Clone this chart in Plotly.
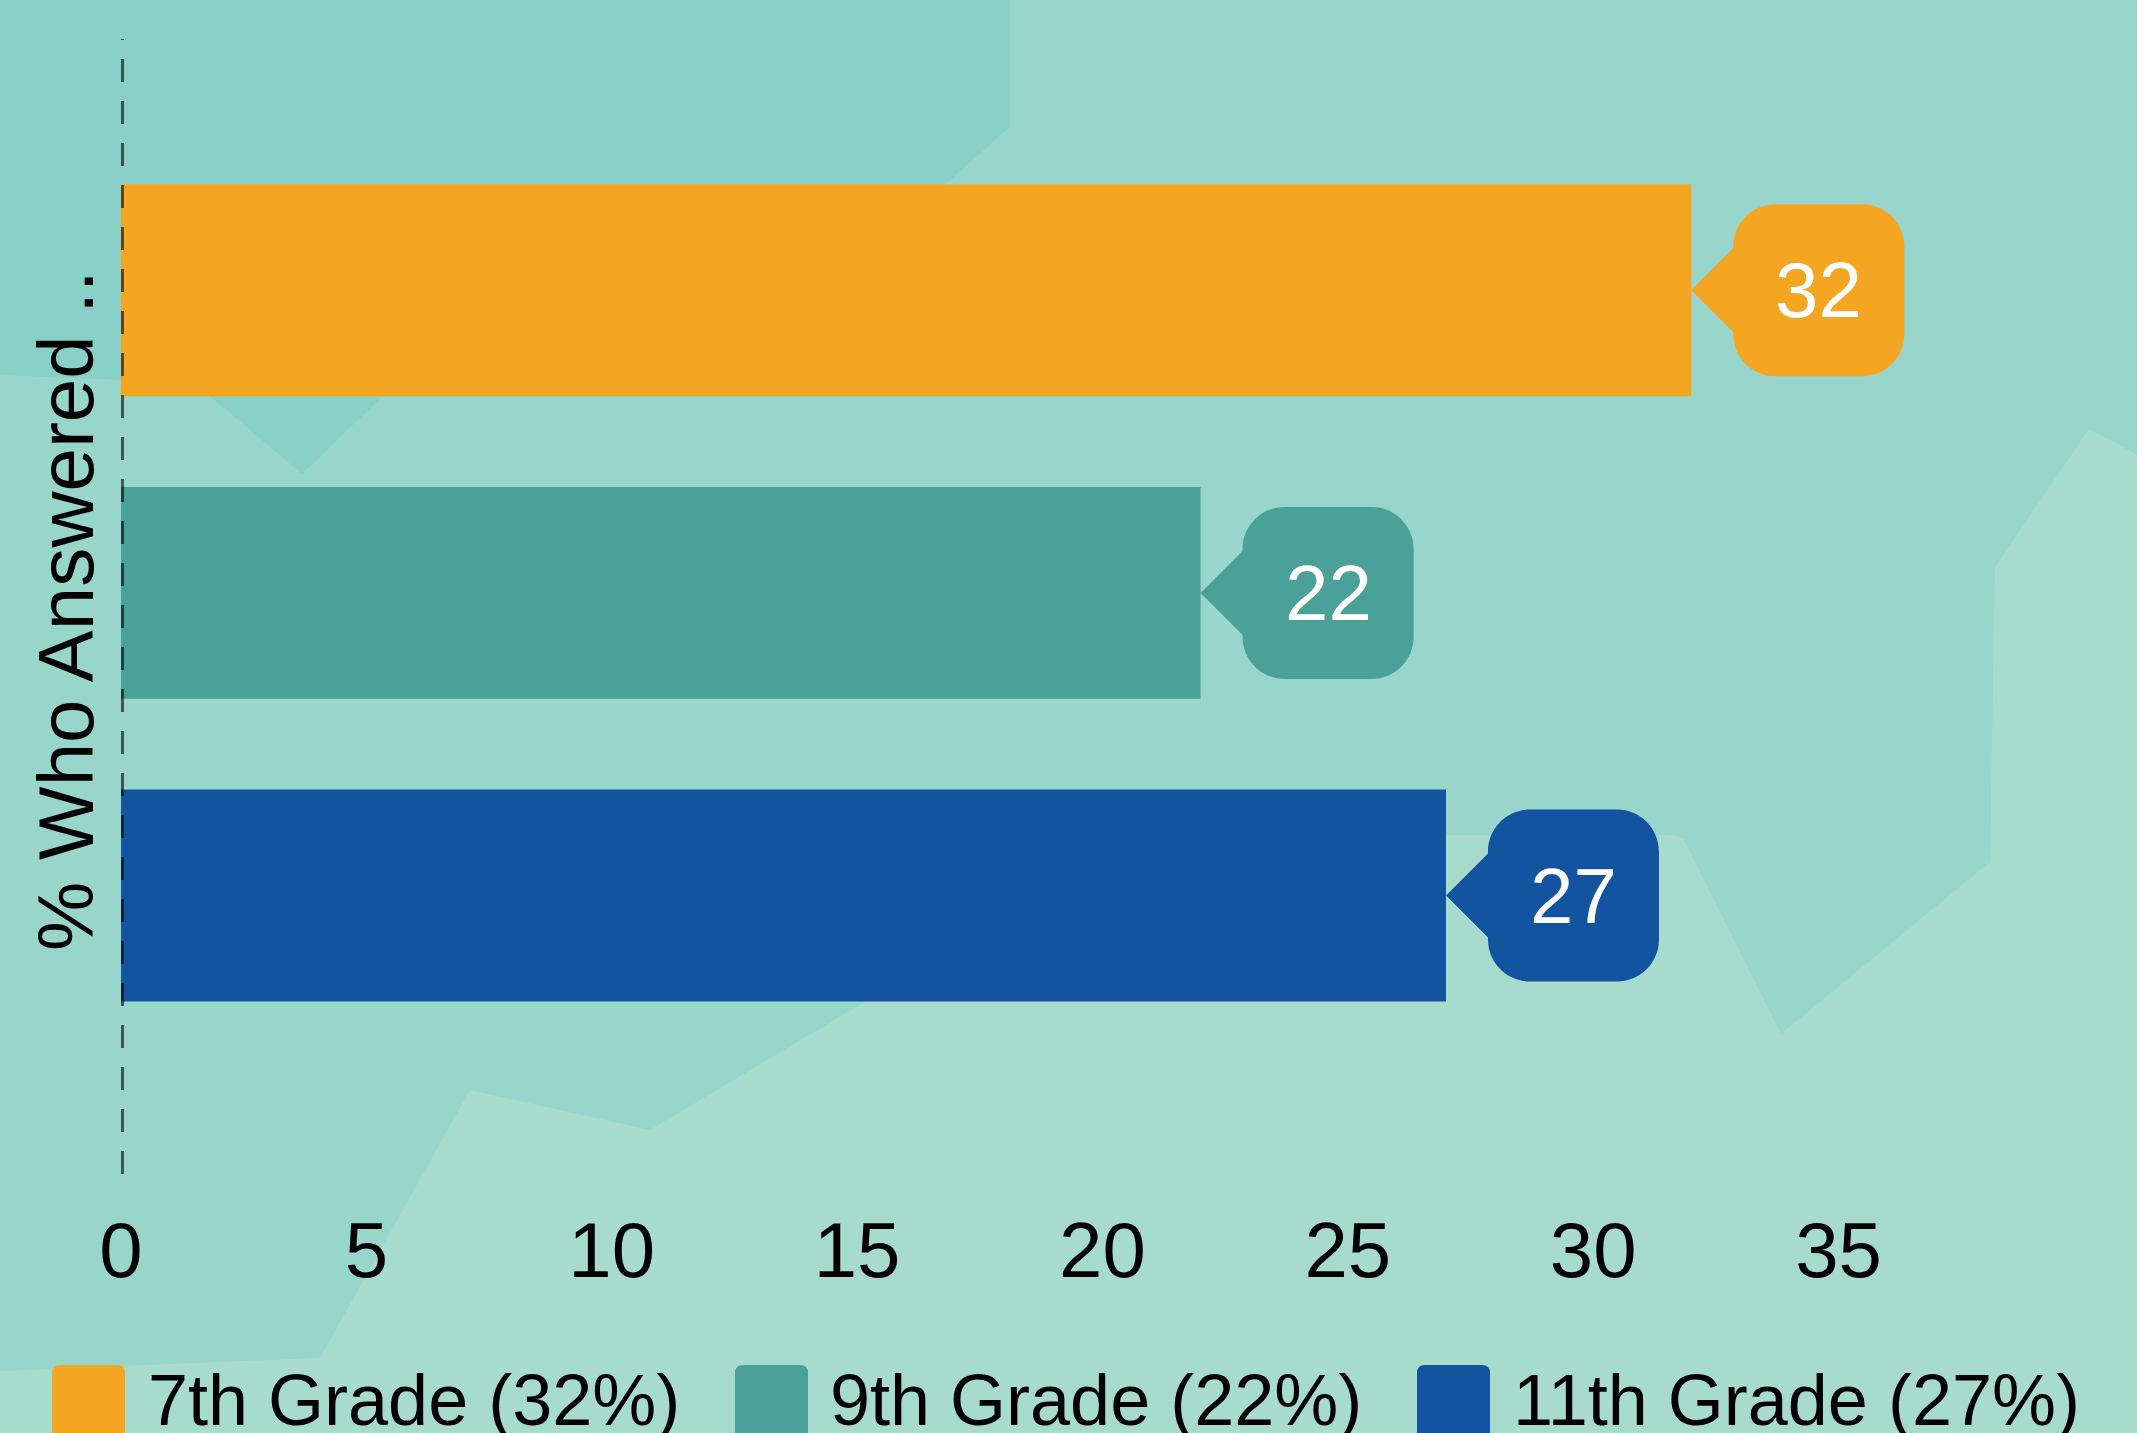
import plotly.graph_objects as go

# ---------------- data ----------------
categories = ["7th Grade", "9th Grade", "11th Grade"]
values = [32, 22, 27]
bar_colors = ["#F4A623", "#4AA198", "#1254A0"]
axis_title = "% Who Answered .."
x_ticks = [0, 5, 10, 15, 20, 25, 30, 35]

# ---------------- geometry (pixels) ----------------
FIG_W, FIG_H = 2137, 1433
L, T = 121, 39
PW, PH = 2012, 1135
R = FIG_W - L - PW
B = FIG_H - T - PH
XMAX = 41.0
YR = [2.92, -0.83]
PX_X = PW / XMAX
PX_Y = PH / (YR[0] - YR[1])

def pxx(px):
    return (px - L) / PW

def pxy(py):
    return (T + PH - py) / PH

FONT = "Liberation Sans, Arial, Helvetica, sans-serif"
BG_MID = "#98D6CC"
BG_DARK = "#89D0C9"
BG_LIGHT = "#A7DCCD"

ypos = list(range(len(categories)))

fig = go.Figure()
fig.add_trace(go.Bar(
    x=values, y=ypos, orientation="h", width=0.7,
    marker=dict(color=bar_colors, line=dict(width=0)),
    hoverinfo="skip", showlegend=False,
))

shapes = []

def poly(points, color):
    d = "M " + " L ".join(f"{pxx(x):.5f},{pxy(y):.5f}" for x, y in points) + " Z"
    return dict(type="path", path=d, xref="paper", yref="paper", layer="below",
                fillcolor=color, line=dict(width=0))

# background polygons
shapes.append(poly([(0, 0), (1010, 0), (1010, 127), (947, 183), (700, 300),
                    (382, 397), (302, 474), (211, 397), (121, 380), (0, 375)], BG_DARK))
shapes.append(poly([(0, 1440), (0, 1371), (320, 1358), (470, 1090), (650, 1130),
                    (868, 1000), (1000, 835), (1673, 835), (1684, 840), (1781, 1034),
                    (1990, 862), (1995, 567), (2089, 429), (2140, 456), (2140, 1440)], BG_LIGHT))

K = 0.5523

def bubble(v, i, color):
    g = 42 / PX_X
    bw = 171 / PX_X
    h = 86 / PX_Y
    rx = 42 / PX_X
    ry = 42 / PX_Y
    ph = 42 / PX_Y
    x0 = v + g
    x1 = x0 + bw
    y0 = i - h
    y1 = i + h
    p = [
        f"M {v},{i}",
        f"L {x0},{i - ph}",
        f"L {x0},{y0 + ry}",
        f"C {x0},{y0 + ry - K*ry} {x0 + rx - K*rx},{y0} {x0 + rx},{y0}",
        f"L {x1 - rx},{y0}",
        f"C {x1 - rx + K*rx},{y0} {x1},{y0 + ry - K*ry} {x1},{y0 + ry}",
        f"L {x1},{y1 - ry}",
        f"C {x1},{y1 - ry + K*ry} {x1 - rx + K*rx},{y1} {x1 - rx},{y1}",
        f"L {x0 + rx},{y1}",
        f"C {x0 + rx - K*rx},{y1} {x0},{y1 - ry + K*ry} {x0},{y1 - ry}",
        f"L {x0},{i + ph}",
        "Z",
    ]
    return dict(type="path", path=" ".join(p), xref="x", yref="y", layer="above",
                fillcolor=color, line=dict(width=0)), (x0 + x1) / 2

annotations = []
for i, (cat, v, c) in enumerate(zip(categories, values, bar_colors)):
    shp, cx = bubble(v, i, c)
    shapes.append(shp)
    annotations.append(dict(x=cx, y=i, xref="x", yref="y", text=str(v), showarrow=False,
                            font=dict(family=FONT, size=78, color="white"),
                            xanchor="center", yanchor="middle"))

# dashed zero line
shapes.append(dict(type="line", xref="x", yref="paper", x0=0, x1=0, y0=0, y1=1,
                   layer="above", line=dict(color="rgba(0,0,0,0.6)", width=6, dash="23px,19px")))

# axis title
annotations.append(dict(x=pxx(66), y=pxy(611), xref="paper", yref="paper", text=axis_title,
                        textangle=-90, showarrow=False, xanchor="center", yanchor="middle",
                        font=dict(family=FONT, size=78, color="black")))

# manual legend
sw_x = [52, 735, 1417]
tx_x = [146, 828, 1511]
SW = 73
for cat, v, c, sx, tx in zip(categories, values, bar_colors, sw_x, tx_x):
    r = 8
    top = 1365
    bot = 1445
    pts = (f"M {pxx(sx)},{pxy(bot)} L {pxx(sx)},{pxy(top + r)} "
           f"Q {pxx(sx)},{pxy(top)} {pxx(sx + r)},{pxy(top)} "
           f"L {pxx(sx + SW - r)},{pxy(top)} "
           f"Q {pxx(sx + SW)},{pxy(top)} {pxx(sx + SW)},{pxy(top + r)} "
           f"L {pxx(sx + SW)},{pxy(bot)} Z")
    shapes.append(dict(type="path", path=pts, xref="paper", yref="paper", layer="above",
                       fillcolor=c, line=dict(width=0)))
    annotations.append(dict(x=pxx(tx), y=pxy(1358), xref="paper", yref="paper",
                            text=f"{cat} ({v}%)", showarrow=False,
                            xanchor="left", yanchor="top",
                            font=dict(family=FONT, size=72, color="black")))

fig.update_layout(
    width=FIG_W, height=FIG_H,
    margin=dict(l=L, r=R, t=T, b=B, pad=0),
    paper_bgcolor=BG_MID, plot_bgcolor="rgba(0,0,0,0)",
    shapes=shapes, annotations=annotations,
    showlegend=False,
    xaxis=dict(range=[0, XMAX], tickvals=x_ticks, ticktext=[str(t) for t in x_ticks],
               showgrid=False, zeroline=False, showline=False,
               ticks="outside", ticklen=8, tickcolor="rgba(0,0,0,0)",
               tickfont=dict(family=FONT, size=78, color="black")),
    yaxis=dict(range=YR, showticklabels=False, showgrid=False, zeroline=False,
               showline=False, ticks=""),
    bargap=0.3,
)

fig.write_html("out.html", config={"displayModeBar": False},
               post_script="document.body.style.margin='0';document.body.style.overflow='hidden';")
